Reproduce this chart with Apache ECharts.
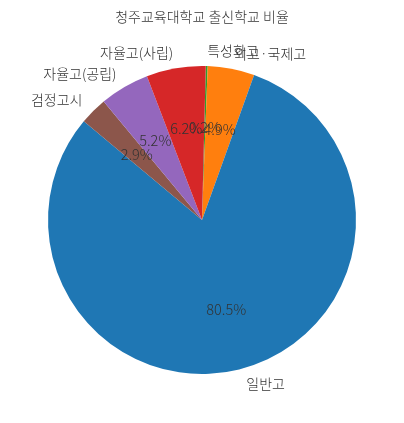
<!DOCTYPE html>
<html>
<head>
<meta charset="utf-8">
<script src="https://cdn.jsdelivr.net/npm/echarts@6/dist/echarts.min.js"></script>
<style>
  html, body { margin: 0; padding: 0; background: #fff; }
  #chart { width: 404px; height: 423px; }
</style>
</head>
<body>
<div id="chart"></div>
<script>
const titleText = '청주교육대학교 출신학교 비율';
const categories = ['특성화고', '외고·국제고', '일반고', '검정고시', '자율고(공립)', '자율고(사립)'];
const percents = [0.2, 4.9, 80.5, 2.9, 5.2, 6.2];
const colors = ['#2ca02c', '#ff7f0e', '#1f77b4', '#8c564b', '#9467bd', '#d62728'];

const FONT = '"Noto Sans CJK KR", "Noto Sans", sans-serif';
const R = 154;
const CENTER = [202, 220];

const pieData = categories.map((name, i) => ({
  name: name,
  value: percents[i],
  itemStyle: { color: colors[i] }
}));

const chart = echarts.init(document.getElementById('chart'), null, { renderer: 'canvas' });
chart.setOption({
  backgroundColor: '#ffffff',
  animation: false,
  title: {
    text: titleText,
    left: 'center',
    top: 5,
    textStyle: { fontFamily: FONT, fontSize: 14, fontWeight: 300, color: '#333' }
  },
  series: [
    {
      type: 'pie',
      center: CENTER,
      radius: [0, R],
      startAngle: 88.6,
      clockwise: true,
      avoidLabelOverlap: false,
      minShowLabelAngle: 0,
      labelLayout: { hideOverlap: false },
      silent: true,
      itemStyle: { borderWidth: 0 },
      label: {
        show: true,
        position: 'outside',
        distanceToLabelLine: 0,
        formatter: '{b}',
        fontFamily: FONT,
        fontSize: 14,
        fontWeight: 300,
        color: '#333'
      },
      labelLine: { show: false, length: R * 0.1, length2: 0 },
      data: pieData
    },
    {
      type: 'pie',
      center: CENTER,
      radius: [25, R],
      startAngle: 88.6,
      clockwise: true,
      avoidLabelOverlap: false,
      minShowLabelAngle: 0,
      labelLayout: { hideOverlap: false },
      silent: true,
      itemStyle: { color: 'rgba(0,0,0,0)', borderWidth: 0 },
      label: {
        show: true,
        position: 'inside',
        formatter: '{c}%',
        fontFamily: FONT,
        fontSize: 14.5,
        fontWeight: 300,
        color: '#333'
      },
      labelLine: { show: false },
      data: categories.map((name, i) => ({ name: name, value: percents[i] }))
    }
  ]
});
</script>
</body>
</html>
